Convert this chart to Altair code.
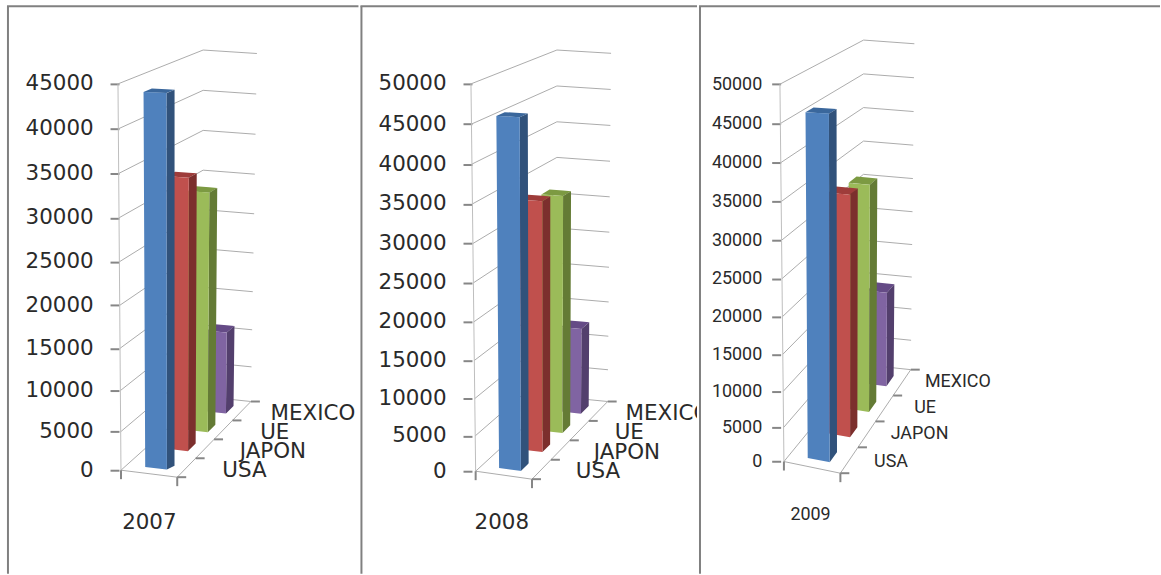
import altair as alt
import pandas as pd

CATEGORIES = ["USA", "JAPON", "UE", "MEXICO"]
YEARS = ["2007", "2008", "2009"]
VALUES_2007 = [43900, 33200, 30100, 11000]
VALUES_2008 = [45800, 33800, 32900, 12600]
VALUES_2009 = [46100, 33800, 33000, 14700]
TICKS_2007 = list(range(0, 45001, 5000))
TICKS_2008 = list(range(0, 50001, 5000))
TICKS_2009 = list(range(0, 50001, 5000))

# Face colours per category: front, side, top
FACE_COLORS = [
    ("#4F81BD", "#31527B", "#3A679C"),
    ("#C0504D", "#7C2F2D", "#9E3C3A"),
    ("#9BBB59", "#647B35", "#7C9A42"),
    ("#8064A2", "#533F6D", "#654B86"),
]
GRID = "#ABABAB"
TICK = "#868686"
FRAME = "#808080"
TEXT = "#2A2A2A"

# Columns drift slightly to the right with depth because of the perspective
U_SHIFT = [0, 0.04, 0.055, 0.04]

# The oblique box of each panel, as page offsets from the panel's left edge:
# floor corners and top corners for (front/back, left/right).
PANELS = [
    dict(year=YEARS[0], values=VALUES_2007, ticks=TICKS_2007, left=0, width=360, vmax=45000, exp=1.05,
         fl=(121.5, 471), fr=(178, 478), bl=(204, 397), br=(252, 402),
         tl=(118.5, 83), tr=(178, 85.5), ubl=(204, 49), ubr=(258, 52.5),
         u=(0.325, 0.715), axis_x=119.5, pad=17, font="DejaVu Sans", size=21.5,
         label_dx=[36, 35, 37, 29], label_dy=[3, 3, 3, 3], year_xy=(150, 524), frame_x=8),
    dict(year=YEARS[1], values=VALUES_2008, ticks=TICKS_2008, left=360, width=338, vmax=50000, exp=1.04,
         fl=(115.7, 472), fr=(172.3, 480), bl=(197.3, 397), br=(248.3, 402),
         tl=(111, 83), tr=(172, 86), ubl=(197.3, 49), ubr=(251.7, 52.3),
         u=(0.31, 0.70), axis_x=112, pad=17, font="DejaVu Sans", size=21.5,
         label_dx=[34.5, 33.5, 35.5, 27.5], label_dy=[2.5, 2.5, 2.5, 2.5], year_xy=(142, 524), frame_x=1),
    dict(year=YEARS[2], values=VALUES_2009, ticks=TICKS_2009, left=698, width=463, vmax=50000, exp=1.045,
         fl=(85.3, 462.3), fr=(142, 474), bl=(165, 365), br=(212.7, 370),
         tl=(81.3, 83.3), tr=(142, 86), ubl=(165.3, 39), ubr=(216.3, 42.7),
         u=(0.32, 0.714), axis_x=82, pad=10, font="Roboto", size=18,
         label_dx=[25, 24, 30, 23], label_dy=[2, 0, 0, -1], year_xy=(112, 516), frame_x=1),
]


def lerp(a, b, t):
    return a + (b - a) * t


def project(p, u, d, f):
    """Trilinear map of (across, depth, height fraction) onto the panel's box."""
    out = []
    for i in (0, 1):
        floor = lerp(lerp(p["fl"][i], p["fr"][i], u), lerp(p["bl"][i], p["br"][i], u), d)
        top = lerp(lerp(p["tl"][i], p["tr"][i], u), lerp(p["ubl"][i], p["ubr"][i], u), d)
        out.append(lerp(floor, top, f))
    return tuple(out)


def fraction(p, v):
    return (v / p["vmax"]) ** p["exp"]


def to_value(p, py):
    """Invert the panel's y scale, so a projected height is plotted through it."""
    y0, y1 = p["fl"][1], p["tl"][1]
    t = (y0 - py) / (y0 - y1)
    sign = 1 if t >= 0 else -1
    return sign * p["vmax"] * abs(t) ** (1 / p["exp"])


def polygon_rows(p, pts):
    """Describe a convex polygon as area stations: x with upper and lower edge."""
    xs = sorted({round(x, 3) for x, _ in pts})
    rows = []
    n = len(pts)
    for x in xs:
        hits = []
        for i in range(n):
            (x1, y1), (x2, y2) = pts[i], pts[(i + 1) % n]
            lo, hi = min(x1, x2) - 1e-3, max(x1, x2) + 1e-3
            if lo <= x <= hi:
                if abs(x2 - x1) < 1e-6:
                    hits += [y1, y2]
                else:
                    hits.append(y1 + (y2 - y1) * (x - x1) / (x2 - x1))
        rows.append(dict(px=x, top=to_value(p, min(hits)), bottom=to_value(p, max(hits))))
    return rows


def panel_chart(p):
    yscale = alt.Scale(type="pow", exponent=p["exp"], domain=[0, p["vmax"]],
                       range=[p["fl"][1], p["tl"][1]], nice=False, zero=False)
    xscale = alt.Scale(domain=[0, p["width"]], range=[0, p["width"]], nice=False, zero=False)
    yaxis = alt.Axis(values=p["ticks"], format="d", title=None, grid=False, domain=False,
                     tickColor=TICK, tickWidth=2, tickSize=9,
                     labelFont=p["font"], labelFontSize=p["size"], labelColor=TEXT,
                     labelPadding=p["pad"], labelOverlap=False, labelFlush=False,
                     offset=-p["axis_x"])
    xenc = alt.X("px:Q", scale=xscale, axis=None)
    yenc = alt.Y("py:Q", scale=yscale, axis=yaxis)

    def polyline(pts, color, width):
        df = pd.DataFrame([dict(px=x, py=to_value(p, y), n=i) for i, (x, y) in enumerate(pts)])
        return alt.Chart(df).mark_line(color=color, strokeWidth=width, interpolate="linear").encode(
            x=xenc, y=yenc, order="n:Q")

    layers = []

    # Walls: value lines run along the side wall, then along the back wall
    for v in p["ticks"]:
        f = fraction(p, v)
        layers.append(polyline([project(p, 0, 0, f), project(p, 0, 1, f), project(p, 1, 1, f)], GRID, 1))
    layers.append(polyline([project(p, 0, 0, 0), project(p, 0, 0, 1)], "#BDBDBD", 1))

    # Frame lines of the slide table
    layers.append(alt.Chart(pd.DataFrame({"a": [0]})).mark_rule(color=FRAME, strokeWidth=2).encode(
        x=alt.value(p["frame_x"]), y=alt.value(5), y2=alt.value(575)))
    layers.append(alt.Chart(pd.DataFrame({"a": [0]})).mark_rule(color=FRAME, strokeWidth=2).encode(
        x=alt.value(p["frame_x"] - 1), x2=alt.value(p["width"]), y=alt.value(5)))

    # Floor edges and their tick marks
    layers.append(polyline([project(p, 0, 0, 0), project(p, 1, 0, 0), project(p, 1, 1, 0)], GRID, 1))
    fl, fr = project(p, 0, 0, 0), project(p, 1, 0, 0)
    layers.append(polyline([fl, (fl[0], fl[1] + 9)], TICK, 2))
    layers.append(polyline([fr, (fr[0], fr[1] + 9)], TICK, 2))
    for d in (0, 0.25, 0.5, 0.75, 1):
        a = project(p, 1, d, 0)
        layers.append(polyline([a, (a[0] + 9, a[1])], TICK, 2))

    # Columns, painted from the back row to the front row
    for idx in (3, 2, 1, 0):
        u0, u1 = p["u"][0] + U_SHIFT[idx], p["u"][1] + U_SHIFT[idx]
        d0 = 0.075 + 0.25 * idx
        d1 = d0 + 0.1
        f = fraction(p, p["values"][idx])
        front, side, top = FACE_COLORS[idx]
        faces = [
            (top, [project(p, u0, d0, f), project(p, u1, d0, f), project(p, u1, d1, f), project(p, u0, d1, f)]),
            (side, [project(p, u1, d0, f), project(p, u1, d1, f), project(p, u1, d1, 0), project(p, u1, d0, 0)]),
            (front, [project(p, u0, d0, f), project(p, u1, d0, f), project(p, u1, d0, 0), project(p, u0, d0, 0)]),
        ]
        for color, pts in faces:
            df = pd.DataFrame(polygon_rows(p, pts))
            layers.append(alt.Chart(df).mark_area(color=color, opacity=1, interpolate="linear").encode(
                x=xenc,
                y=alt.Y("top:Q", scale=yscale, stack=None, axis=yaxis),
                y2="bottom:Q"))

    # Category names beside the depth axis
    rows = []
    for idx, name in enumerate(CATEGORIES):
        x, y = project(p, 1, 0.125 + 0.25 * idx, 0)
        rows.append(dict(px=x + p["label_dx"][idx], py=to_value(p, y + p["label_dy"][idx]), name=name))
    layers.append(alt.Chart(pd.DataFrame(rows)).mark_text(
        align="left", baseline="middle", font=p["font"], fontSize=p["size"], color=TEXT, clip=True
    ).encode(x=xenc, y=yenc, text="name:N"))

    # Year under the floor
    yx, yy = p["year_xy"]
    layers.append(alt.Chart(pd.DataFrame([dict(px=yx, py=to_value(p, yy), name=p["year"])])).mark_text(
        align="center", baseline="middle", font=p["font"], fontSize=p["size"], color=TEXT
    ).encode(x=xenc, y=yenc, text="name:N"))

    return alt.layer(*layers).resolve_scale(y="shared", x="shared").properties(
        width=p["width"], height=575)


chart = alt.hconcat(*[panel_chart(p) for p in PANELS], spacing=0).properties(
    padding=0, background="white"
).configure_view(stroke=None)

chart.save("out.html", embed_options={"renderer": "svg", "actions": False})
